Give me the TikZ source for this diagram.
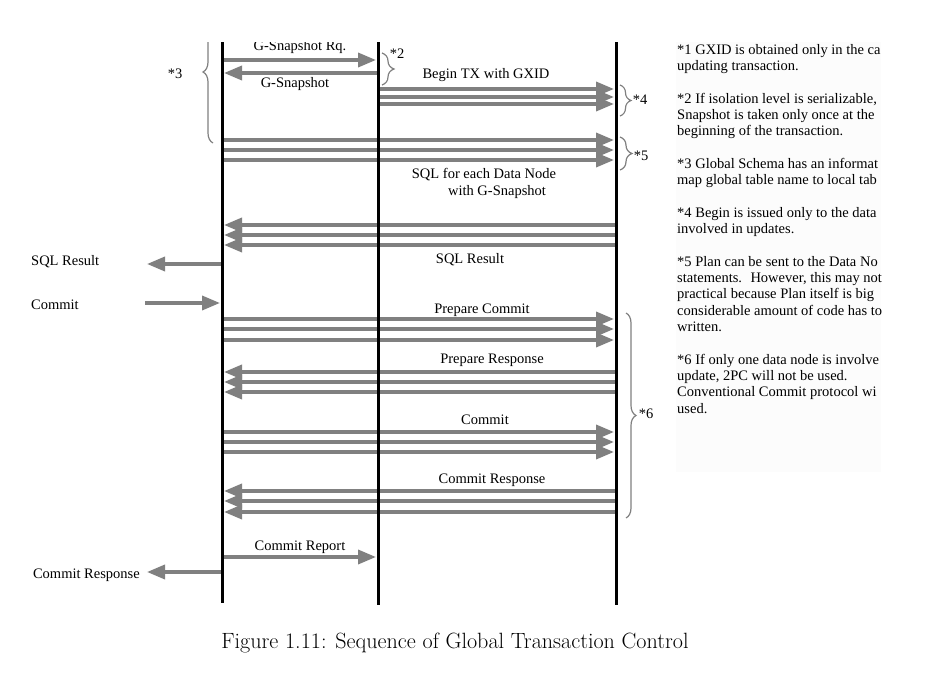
\documentclass[tikz,border=0pt]{standalone}
\usepackage{fontspec}
\newfontfamily\timesfont{Liberation Serif}
\usetikzlibrary{arrows.meta,decorations.pathreplacing}

\begin{document}
\begin{tikzpicture}[x=1pt,y=-1pt,
	msg/.style={gray,line width=3.5pt,shorten >=2pt,-{Triangle[length=18pt,width=14pt]}},
	life/.style={line width=3pt},
	lbl/.style={font=\timesfont\fontsize{14.5}{16.3}\selectfont,inner sep=0pt,yshift=-2pt},
	curly/.style={decorate,decoration={brace,amplitude=#1},gray,line width=1.2pt}]
	\useasboundingbox (0,0) rectangle (940,676);
	%lifelines
		\coordinate (app) at (145,0);
		\coordinate (c) at (222,0);
		\coordinate (g) at (378,0);
		\coordinate (d) at (616,0);
	\begin{scope}
		\clip (0,43) rectangle (940,620);
	%notes
		\fill[black!1] (676,38) rectangle (881,472);
		\begin{scope}
			\clip (676,38) rectangle (881,472);
			\node[lbl,anchor=base west,align=left] (notes) at (677,411)
				{*1 GXID is obtained only in the ca\\updating transaction.\\[16.3pt]
				*2 If isolation level is serializable,\\Snapshot is taken only once at the\\
				beginning of the transaction.\\[16.3pt]
				*3 Global Schema has an informat\\map global table name to local tab\\[16.3pt]
				*4 Begin is issued only to the data\\involved in updates.\\[16.3pt]
				*5 Plan can be sent to the Data No\\statements.~ However, this may not\\
				practical because Plan itself is big\\considerable amount of code has to\\
				written.\\[16.3pt]
				*6 If only one data node is involve\\update, 2PC will not be used.\\
				Conventional Commit protocol wi\\used.};
		\end{scope}
	%g-snapshot
		\draw[msg] (c |- 0,60) -- (g |- 0,60);
		\draw[msg] (g |- 0,73) -- (c |- 0,73);
		\node[lbl] (rq) at (300,45) {G-Snapshot Rq.};
		\node[lbl] (snap) at (295,82) {G-Snapshot};
		\draw[curly=12pt] (382,53) -- (382,85);
		\node[lbl] (n2) at (397,52) {*2};
	%begin tx
		\draw[msg] (g |- 0,89) -- (d |- 0,89);
		\draw[msg] (g |- 0,97) -- (d |- 0,97);
		\draw[msg] (g |- 0,104) -- (d |- 0,104);
		\node[lbl] (begin) at (486,73) {Begin TX with GXID};
		\draw[curly=11pt] (620,85) -- (620,116);
		\node[lbl] (n4) at (640,98) {*4};
		\draw[curly=10pt] (213,143) -- (213,1);
		\node[lbl] (n3) at (175,72) {*3};
	%sql
		\draw[msg] (c |- 0,140) -- (d |- 0,140);
		\draw[msg] (c |- 0,150) -- (d |- 0,150);
		\draw[msg] (c |- 0,160) -- (d |- 0,160);
		\node[lbl] (sql) at (484,173) {SQL for each Data Node};
		\node[lbl] (sql2) at (497,190) {with G-Snapshot};
		\draw[curly=12pt] (620,137) -- (620,170);
		\node[lbl] (n5) at (641,154) {*5};
	%sql result
		\draw[msg] (d |- 0,225) -- (c |- 0,225);
		\draw[msg] (d |- 0,235) -- (c |- 0,235);
		\draw[msg] (d |- 0,245) -- (c |- 0,245);
		\node[lbl] (res) at (470,258) {SQL Result};
		\draw[msg] (c |- 0,264) -- (app |- 0,264);
		\node[lbl,anchor=west] (res2) at (31,260) {SQL Result};
	%commit request
		\draw[msg] (app |- 0,303) -- (c |- 0,303);
		\node[lbl,anchor=west] (com) at (31,303) {Commit};
	%prepare
		\draw[msg] (c |- 0,319) -- (d |- 0,319);
		\draw[msg] (c |- 0,329) -- (d |- 0,329);
		\draw[msg] (c |- 0,340) -- (d |- 0,340);
		\node[lbl] (prep) at (482,308) {Prepare Commit};
		\draw[msg] (d |- 0,372) -- (c |- 0,372);
		\draw[msg] (d |- 0,382) -- (c |- 0,382);
		\draw[msg] (d |- 0,392) -- (c |- 0,392);
		\node[lbl] (prepres) at (492,358) {Prepare Response};
	%commit
		\draw[msg] (c |- 0,432) -- (d |- 0,432);
		\draw[msg] (c |- 0,442) -- (d |- 0,442);
		\draw[msg] (c |- 0,452) -- (d |- 0,452);
		\node[lbl] (com2) at (485,418) {Commit};
		\draw[msg] (d |- 0,491) -- (c |- 0,491);
		\draw[msg] (d |- 0,501) -- (c |- 0,501);
		\draw[msg] (d |- 0,512) -- (c |- 0,512);
		\node[lbl] (comres) at (492,478) {Commit Response};
		\draw[curly=10pt] (626,313) -- (626,518);
		\node[lbl] (n6) at (646,412) {*6};
	%report
		\draw[msg] (c |- 0,557) -- (g |- 0,557);
		\node[lbl] (rep) at (300,545) {Commit Report};
		\draw[msg] (c |- 0,572) -- (app |- 0,572);
		\node[lbl,anchor=east] (comres2) at (140,573) {Commit Response};
	%lines on top
		\draw[life] (c |- 0,40) -- (c |- 0,603);
		\draw[life] (g |- 0,40) -- (g |- 0,605);
		\draw[life] (d |- 0,40) -- (d |- 0,605);
	\end{scope}
	%caption
		\node (caption) at (455,643) {\fontsize{22.1}{26}\selectfont Figure 1.11: Sequence of Global Transaction Control};
\end{tikzpicture}
\end{document}
